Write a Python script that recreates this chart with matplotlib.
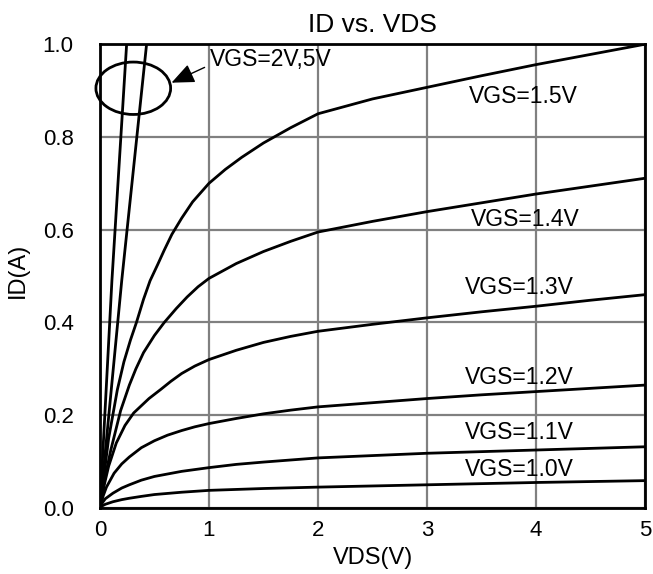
from matplotlib import pyplot as plt
from matplotlib.patches import Ellipse

plt.rcParams['font.family'] = ['Liberation Sans', 'DejaVu Sans']

# values (VDS in V, ID in A)
vds_2v = [0, 0.11, 0.245]
id_2v = [0, 0.49, 1.0]
vds_5v = [0, 0.20, 0.428]
id_5v = [0, 0.49, 1.0]

vds_15 = [0, 0.08, 0.16, 0.22, 0.28, 0.335, 0.40, 0.46, 0.53, 0.59, 0.66, 0.75, 0.85, 1.0,
          1.15, 1.3, 1.5, 1.75, 2.0, 2.5, 3.0, 3.5, 4.0, 4.5, 5.0]
id_15 = [0, 0.15, 0.255, 0.315, 0.362, 0.40, 0.45, 0.49, 0.525, 0.556, 0.59, 0.625, 0.66, 0.70,
         0.73, 0.756, 0.787, 0.82, 0.85, 0.882, 0.907, 0.932, 0.956, 0.978, 1.0]

vds_14 = [0, 0.05, 0.1, 0.19, 0.27, 0.33, 0.40, 0.5, 0.59, 0.7, 0.8, 0.9, 1.0, 1.25, 1.5,
          1.75, 2.0, 2.5, 3.0, 3.5, 4.0, 4.5, 5.0]
id_14 = [0, 0.07, 0.125, 0.21, 0.265, 0.30, 0.335, 0.372, 0.40, 0.43, 0.455, 0.477, 0.495,
         0.527, 0.553, 0.575, 0.595, 0.618, 0.639, 0.658, 0.677, 0.694, 0.711]

vds_13 = [0, 0.04, 0.08, 0.15, 0.23, 0.31, 0.45, 0.56, 0.65, 0.75, 0.87, 1.0, 1.25, 1.5,
          1.75, 2.0, 2.5, 3.0, 3.5, 4.0, 4.5, 5.0]
id_13 = [0, 0.05, 0.09, 0.14, 0.178, 0.205, 0.236, 0.256, 0.273, 0.29, 0.306, 0.32, 0.34,
         0.357, 0.37, 0.381, 0.396, 0.41, 0.423, 0.435, 0.448, 0.46]

vds_12 = [0, 0.03, 0.06, 0.13, 0.2, 0.27, 0.38, 0.5, 0.62, 0.75, 0.87, 1.0, 1.25, 1.5, 1.75,
          2.0, 2.5, 3.0, 3.5, 4.0, 4.5, 5.0]
id_12 = [0, 0.026, 0.045, 0.075, 0.095, 0.11, 0.13, 0.145, 0.157, 0.167, 0.175, 0.182, 0.193,
         0.203, 0.211, 0.218, 0.227, 0.236, 0.244, 0.251, 0.258, 0.265]

vds_11 = [0, 0.025, 0.05, 0.12, 0.2, 0.27, 0.38, 0.5, 0.75, 1.0, 1.25, 1.5, 2.0, 2.5, 3.0, 4.0, 5.0]
id_11 = [0, 0.012, 0.02, 0.032, 0.043, 0.05, 0.06, 0.068, 0.079, 0.087, 0.094, 0.099, 0.108,
         0.113, 0.118, 0.125, 0.132]

vds_10 = [0, 0.025, 0.05, 0.12, 0.2, 0.27, 0.38, 0.5, 0.75, 1.0, 1.5, 2.0, 3.0, 4.0, 5.0]
id_10 = [0, 0.005, 0.008, 0.0135, 0.018, 0.021, 0.025, 0.029, 0.034, 0.038, 0.042, 0.045,
         0.05, 0.055, 0.059]

curves = [(vds_2v, id_2v), (vds_5v, id_5v), (vds_15, id_15), (vds_14, id_14),
          (vds_13, id_13), (vds_12, id_12), (vds_11, id_11), (vds_10, id_10)]

# curve labels and where they sit
labels = ['VGS=1.5V', 'VGS=1.4V', 'VGS=1.3V', 'VGS=1.2V', 'VGS=1.1V', 'VGS=1.0V']
label_x = [3.38, 3.40, 3.35, 3.35, 3.35, 3.35]
label_y = [0.888, 0.621, 0.476, 0.282, 0.162, 0.082]

fig = plt.figure(figsize=(6.53, 5.74), dpi=100)
ax = fig.add_axes([0.153, 0.115, 0.835, 0.808])

for x, y in curves:
    ax.plot(x, y, color='black', lw=2.0, solid_joinstyle='round')

for txt, x, y in zip(labels, label_x, label_y):
    ax.text(x, y, txt, fontsize=16.5, va='center', ha='left')

# circle round the two steep lines + arrow
ax.add_patch(Ellipse((0.306, 0.905), 0.685, 0.113, fill=False, ec='black', lw=2.0, clip_on=False))
ax.annotate('', xy=(0.657, 0.917), xytext=(0.96, 0.95),
            arrowprops=dict(arrowstyle='-|>,head_length=0.7,head_width=0.3', color='black',
                            lw=1.0, mutation_scale=20, shrinkA=0, shrinkB=0))
ax.text(1.01, 0.966, 'VGS=2V,5V', fontsize=16.5, va='center', ha='left')

ax.set_xlim(0, 5)
ax.set_ylim(0, 1.0)
ax.set_xticks([0, 1, 2, 3, 4, 5])
ax.set_yticks([0.0, 0.2, 0.4, 0.6, 0.8, 1.0])
ax.set_yticklabels(['0.0', '0.2', '0.4', '0.6', '0.8', '1.0'])
ax.tick_params(length=0, labelsize=16)
ax.tick_params(axis='y', pad=19)
ax.tick_params(axis='x', pad=9)
ax.grid(color='#808080', lw=1.6)
ax.set_axisbelow(True)
for s in ax.spines.values():
    s.set_linewidth(2.0)

ax.set_xlabel('VDS(V)', fontsize=17, labelpad=4)
ax.set_ylabel('ID(A)', fontsize=17)
ax.yaxis.set_label_coords(-0.13, 0.513)
ax.set_title('ID vs. VDS', fontsize=19, pad=9)

plt.savefig('out.png')
